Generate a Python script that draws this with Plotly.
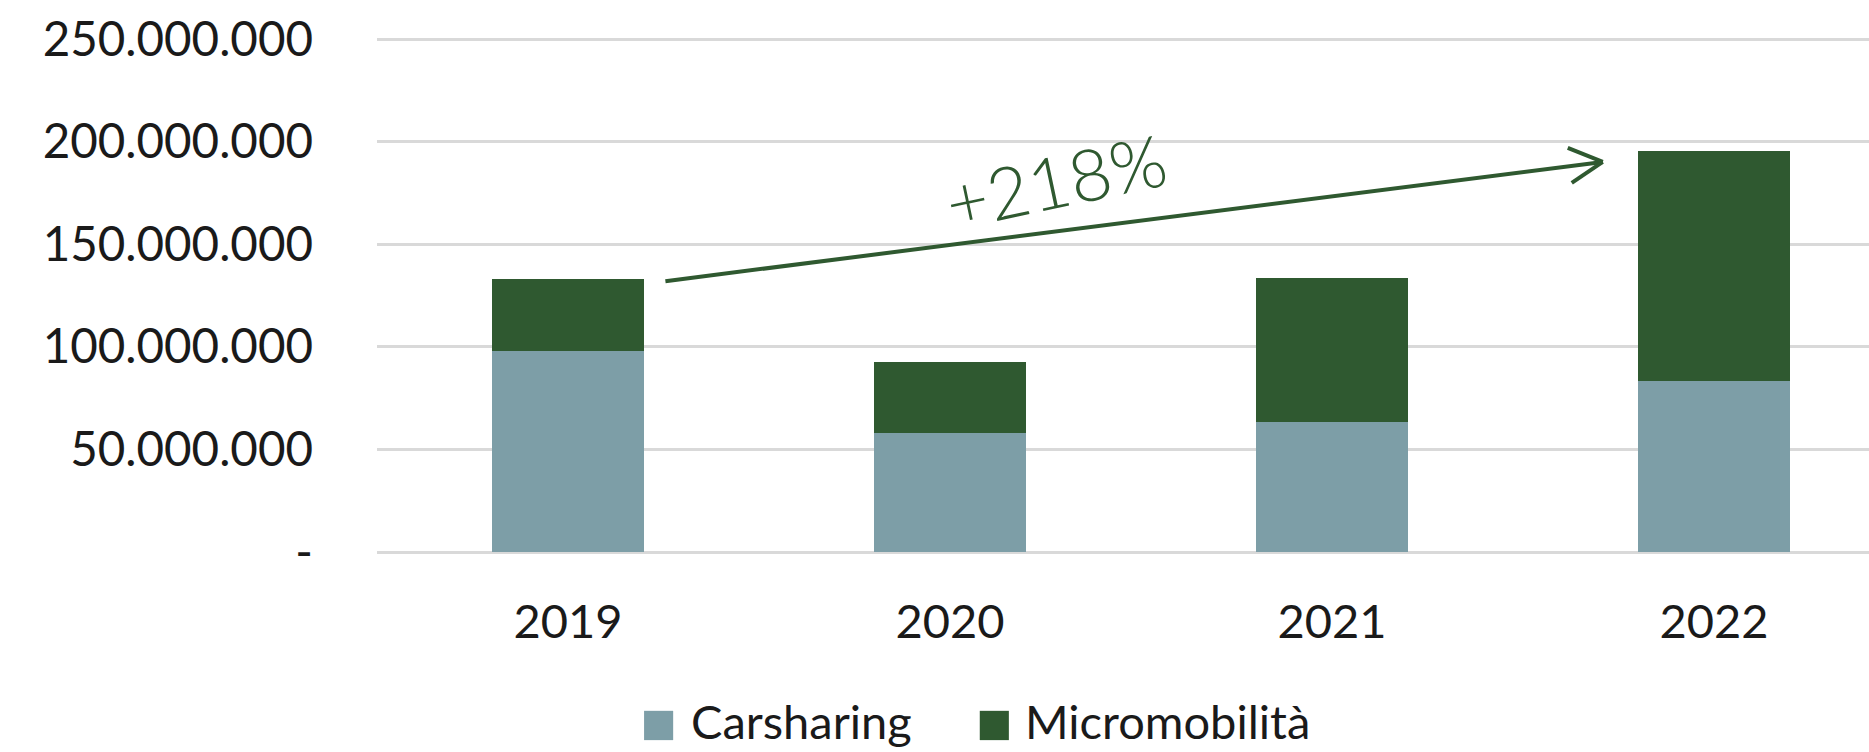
import plotly.graph_objects as go

years = ["2019", "2020", "2021", "2022"]
carsharing = [98_000_000, 58_000_000, 63_500_000, 83_500_000]
micromobilita = [35_000_000, 34_600_000, 69_800_000, 111_800_000]

tick_vals = [0, 50_000_000, 100_000_000, 150_000_000, 200_000_000, 250_000_000]
tick_text = ["-", "50.000.000", "100.000.000", "150.000.000", "200.000.000", "250.000.000"]

series_names = ["Carsharing", "Micromobilità"]
C_CAR = "#7d9ea7"
C_MICRO = "#2f5930"
FONT = "Lato"
TXT = "#1a1a1a"

fig = go.Figure()
fig.add_bar(x=years, y=carsharing, name=series_names[0], marker=dict(color=C_CAR, line=dict(width=0)))
fig.add_bar(x=years, y=micromobilita, name=series_names[1], marker=dict(color=C_MICRO, line=dict(width=0)))

# growth arrow (annotation)
tail = (0.255, 132_000_000)
head = (2.709, 190_100_000)
fig.add_shape(type="line", xref="x", yref="y", x0=tail[0], y0=tail[1], x1=head[0], y1=head[1],
              line=dict(color=C_MICRO, width=4))
for dx, dy in [(-35, 14), (-31, -21)]:
    fig.add_shape(type="line", xref="x", yref="y", xsizemode="pixel", ysizemode="pixel",
                  xanchor=head[0], yanchor=head[1], x0=0, y0=0, x1=dx, y1=dy,
                  line=dict(color=C_MICRO, width=4))
fig.add_annotation(x=1.275, y=181_500_000, xref="x", yref="y", text="+218%", showarrow=False,
                   textangle=-12, font=dict(family=FONT, size=72, color=C_MICRO, weight=300))

# legend (drawn manually to match the large square keys)
legend_items = [(series_names[0], C_CAR, 0.179, 0.209), (series_names[1], C_MICRO, 0.404, 0.433)]
for name, col, sx, tx in legend_items:
    fig.add_shape(type="rect", xref="paper", yref="paper", x0=sx, x1=sx + 0.0195,
                  y0=-0.366, y1=-0.309, fillcolor=col, line=dict(width=0))
    fig.add_annotation(x=tx, y=-0.329, xref="paper", yref="paper", text=name, showarrow=False,
                       xanchor="left", yanchor="middle",
                       font=dict(family=FONT, size=47, color=TXT))

fig.update_layout(
    barmode="stack",
    bargap=0.6,
    width=1869, height=752,
    margin=dict(l=377, r=0, t=38, b=200, pad=0, autoexpand=False),
    plot_bgcolor="white", paper_bgcolor="white",
    font=dict(family=FONT, size=47, color=TXT),
    showlegend=False,
    xaxis=dict(range=[-0.5, 3.406], showgrid=False, showline=False, zeroline=False,
               ticks="", ticklabelstandoff=38, fixedrange=True, automargin=False,
               tickfont=dict(size=47)),
    yaxis=dict(range=[0, 250_500_000], tickvals=tick_vals, ticktext=tick_text,
               showgrid=True, gridcolor="#d9d9d9", gridwidth=2.5, zeroline=True,
               zerolinecolor="#d9d9d9", zerolinewidth=2.5, showline=False, ticks="",
               ticklabelstandoff=63, fixedrange=True, automargin=False,
               tickfont=dict(size=47.5)),
)

fig.write_html("out.html", config={"displayModeBar": False},
               post_script="document.body.style.margin='0';document.body.style.overflow='hidden';")
